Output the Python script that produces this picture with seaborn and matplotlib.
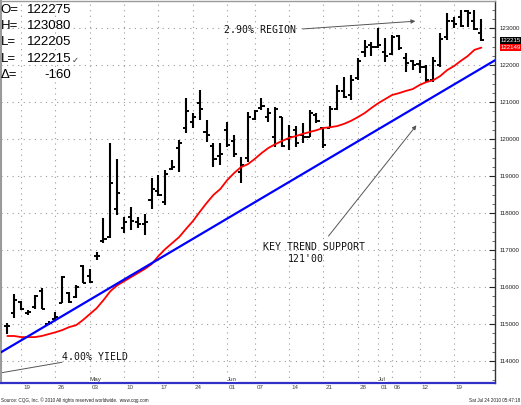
import numpy as np
import matplotlib
matplotlib.use('Agg')
import matplotlib.pyplot as plt
import matplotlib.transforms as mtransforms
from matplotlib.ticker import MultipleLocator, FuncFormatter
import seaborn as sns

# daily OHLC bars, Apr 15 - Jul 23 2010 (price in points, 1 point = "1000" on the axis)
day = np.arange(70)
bar_open = [114.95, 115.30, 115.60, 115.30, 115.46, 115.90, 115.00, 115.15, 115.57, 115.84,
            115.73, 116.56, 116.30, 116.85, 117.25, 117.35, 118.10, 117.60, 117.90, 117.75,
            117.70, 118.35, 118.60, 118.30, 119.20, 119.75, 120.30, 120.45, 120.97, 120.20,
            119.80, 119.55, 120.24, 119.95, 119.10, 119.50, 120.55, 120.85, 120.60, 120.05,
            120.60, 120.00, 120.25, 120.10, 120.05, 120.65, 120.30, 120.30, 120.80, 121.30,
            121.20, 121.65, 122.35, 122.55, 122.50, 122.35, 122.30, 122.78, 122.20, 122.10,
            122.02, 121.95, 121.60, 122.00, 122.75, 123.20, 123.30, 123.45, 123.20, 122.86]
bar_high = [115.03, 115.81, 115.62, 115.38, 115.78, 115.97, 115.08, 115.32, 116.30, 115.86,
            116.05, 116.60, 116.49, 116.95, 117.86, 119.89, 119.46, 117.89, 118.16, 117.89,
            117.97, 118.95, 119.03, 119.16, 119.43, 119.97, 121.11, 120.70, 121.32, 120.51,
            119.89, 119.89, 120.46, 120.11, 119.51, 120.73, 120.78, 121.10, 120.84, 120.86,
            120.60, 120.38, 120.35, 120.43, 120.78, 120.70, 120.32, 120.89, 121.46, 121.68,
            121.73, 122.19, 122.68, 122.62, 123.00, 122.73, 122.81, 122.81, 122.32, 122.14,
            122.14, 122.00, 122.22, 122.86, 123.41, 123.30, 123.49, 123.49, 123.49, 123.25]
bar_low = [114.73, 115.16, 115.38, 115.24, 115.41, 115.41, 114.97, 115.08, 115.57, 115.57,
           115.70, 116.10, 116.11, 116.73, 117.19, 117.32, 117.95, 117.46, 117.54, 117.60,
           117.40, 118.10, 118.46, 118.22, 119.16, 119.10, 120.16, 120.30, 120.51, 119.92,
           119.24, 119.30, 119.78, 119.51, 118.81, 119.38, 120.51, 120.78, 120.46, 119.78,
           119.78, 119.70, 119.78, 119.89, 120.05, 120.43, 119.76, 120.30, 120.78, 121.11,
           121.05, 121.59, 122.22, 122.25, 122.46, 122.08, 122.27, 122.41, 121.81, 121.86,
           121.78, 121.54, 121.54, 121.95, 122.68, 123.00, 123.03, 123.03, 122.95, 122.64]
bar_close = [114.95, 115.65, 115.40, 115.33, 115.75, 115.42, 115.03, 115.20, 116.27, 115.60,
             116.00, 116.12, 116.14, 116.85, 117.30, 118.80, 118.55, 117.75, 117.80, 117.70,
             117.75, 118.65, 118.50, 119.05, 119.25, 119.90, 120.75, 120.60, 120.80, 120.10,
             119.45, 119.60, 119.85, 119.60, 119.30, 120.60, 120.75, 120.90, 120.70, 120.80,
             119.80, 120.05, 119.90, 120.05, 120.70, 120.50, 119.85, 120.80, 121.30, 121.15,
             121.60, 122.10, 122.50, 122.50, 122.55, 122.25, 122.75, 122.45, 122.05, 122.00,
             121.95, 121.60, 122.10, 122.70, 123.20, 123.10, 123.05, 123.40, 122.98, 122.67]

# red moving average
avg_line = [114.68, 114.68, 114.65, 114.65, 114.65, 114.68, 114.73, 114.78, 114.84, 114.92,
            114.97, 115.11, 115.27, 115.43, 115.65, 115.89, 116.05, 116.16, 116.27, 116.38,
            116.49, 116.62, 116.84, 117.03, 117.19, 117.35, 117.57, 117.78, 118.03, 118.27,
            118.49, 118.65, 118.89, 119.08, 119.24, 119.32, 119.46, 119.62, 119.76, 119.86,
            119.95, 120.03, 120.08, 120.14, 120.19, 120.24, 120.30, 120.32, 120.35, 120.41,
            120.49, 120.59, 120.70, 120.84, 120.97, 121.08, 121.19, 121.24, 121.30, 121.35,
            121.46, 121.54, 121.59, 121.70, 121.86, 121.97, 122.11, 122.24, 122.41, 122.47]

# blue trend line end points
trend_x = [-0.92, 71.0]
trend_y = [114.24, 122.13]

# date axis
tick_days = [2, 7, 12, 17, 22, 27, 32, 36, 41, 46, 51, 54, 56, 60, 65]
tick_labels = ['19', '26', '03', '10', '17', '24', '01', '07', '14', '21', '28', '01', '06', '12', '19']
month_days = [12, 32, 54]
month_labels = ['May', 'Jun', 'Jul']

info_keys = ['O=', 'H=', 'L=', 'L=', '\u0394=']
info_values = ['122275', '123080', '122205', '122215', '-160']

sns.set_style('white')
plt.rcParams['font.family'] = ['Liberation Sans', 'DejaVu Sans']

W, H = 521, 405
fig = plt.figure(figsize=(W / 100, H / 100), dpi=100)
ax = fig.add_axes([1 / W, (H - 383) / H, 494 / W, 382 / H])

# dotted grid
ax.grid(True, color='#9a9a9a', linestyle=(0, (1, 4)), linewidth=0.8)
ax.set_axisbelow(True)

# OHLC bars
ax.vlines(day, bar_low, bar_high, color='black', lw=1.5, zorder=3)
ax.hlines(bar_open, day - 0.45, day, color='black', lw=1.4, zorder=3)
ax.hlines(bar_close, day, day + 0.45, color='black', lw=1.4, zorder=3)

sns.lineplot(x=day, y=avg_line, color='#ff0000', lw=1.3, ax=ax, zorder=4)
sns.lineplot(x=trend_x, y=trend_y, color='#0000ff', lw=1.6, ax=ax, zorder=4)

ax.set_xlim(-0.92, 70.99)
ax.set_ylim(113.41, 123.73)

# price axis on the right
ax.yaxis.tick_right()
ax.yaxis.set_major_locator(MultipleLocator(1))
ax.yaxis.set_minor_locator(MultipleLocator(0.25))
ax.yaxis.set_major_formatter(FuncFormatter(lambda v, p: f'{int(round(v))}000'))
ax.tick_params(axis='y', which='major', direction='in', length=4, width=0.8,
               colors='#222', labelsize=4.4, pad=3)
ax.tick_params(axis='y', which='minor', direction='in', length=2, width=0.6, colors='#555')
ax.set_ylabel('')
ax.set_xlabel('')

# date axis
ax.set_xticks(tick_days, tick_labels)
ax.tick_params(axis='x', direction='out', length=5.5, width=0.8, colors='#444',
               labelsize=4.5, pad=-4)
shift = mtransforms.ScaledTranslation(1.5 / 72, 0, fig.dpi_scale_trans)
for lbl in ax.get_xticklabels():
    lbl.set_ha('left')
    lbl.set_transform(lbl.get_transform() + shift)

for d, m in zip(month_days, month_labels):
    ax.text(d, 113.45, m, fontsize=4.5, color='#333', ha='left', va='bottom',
            bbox=dict(boxstyle='square,pad=0.15', fc='white', ec='none'),
            clip_on=False, zorder=6)

for side, col, lw in [('left', '#9a9a9a', 1.5), ('top', '#9a9a9a', 1.0),
                      ('right', '#333333', 1.0), ('bottom', '#3030c8', 1.6)]:
    ax.spines[side].set_visible(True)
    ax.spines[side].set_color(col)
    ax.spines[side].set_linewidth(lw)

# last price / average boxes on the price scale
blend = mtransforms.blended_transform_factory(ax.transAxes, ax.transData)
ax.text(1.011, bar_close[-1], '122215', transform=blend, fontsize=4.4, color='white',
        ha='left', va='center', clip_on=False,
        bbox=dict(boxstyle='square,pad=0.15', fc='black', ec='none'))
ax.text(1.011, avg_line[-1], '122149', transform=blend, fontsize=4.4, color='white',
        ha='left', va='center', clip_on=False,
        bbox=dict(boxstyle='square,pad=0.15', fc='#ff0000', ec='none'))

# annotations
mono = 'DejaVu Sans Mono'
ax.text(42.0, 122.95, '2.90% REGION', family=mono, fontsize=7.1, color='#111',
        ha='right', va='center')
ax.annotate('', xy=(59.8, 123.19), xytext=(42.6, 122.97),
            arrowprops=dict(arrowstyle='-|>', color='#555', lw=0.7, mutation_scale=6))
ax.text(44.7, 117.09, 'KEY TREND SUPPORT', family=mono, fontsize=7.1, color='#111',
        ha='center', va='center')
ax.text(43.5, 116.75, "121'00", family=mono, fontsize=7.1, color='#111',
        ha='center', va='center')
ax.annotate('', xy=(59.8, 120.43), xytext=(46.5, 117.32),
            arrowprops=dict(arrowstyle='-|>', color='#555', lw=0.7, mutation_scale=6))
ax.text(8.0, 114.11, '4.00% YIELD', family=mono, fontsize=7.1, color='#111',
        ha='left', va='center')
ax.plot([7.96, -1.06], [113.97, 113.68], color='#555', lw=0.7)

# quote box top left
for k, (key, val) in enumerate(zip(info_keys, info_values)):
    yy = 1 - (10 + 16.2 * k) / H
    fig.text(0.5 / W, yy, key, fontsize=9.5, ha='left', va='center', color='black')
    fig.text(71 / W, yy, val, fontsize=9.5, ha='right', va='center', color='black')
fig.text(72 / W, 1 - 60 / H, '\u2713', family='DejaVu Sans', fontsize=6, ha='left',
         va='center', color='#333')

fig.text(1 / W, 1 - 400 / H, 'Source: CQG, Inc. \u00a9 2010 All rights reserved worldwide.  www.cqg.com',
         fontsize=3.3, ha='left', va='center', color='#222')
fig.text(520 / W, 1 - 400 / H, 'Sat Jul 24 2010 05:47:18', fontsize=3.3, ha='right',
         va='center', color='#222')

plt.savefig('out.png', dpi=100)
